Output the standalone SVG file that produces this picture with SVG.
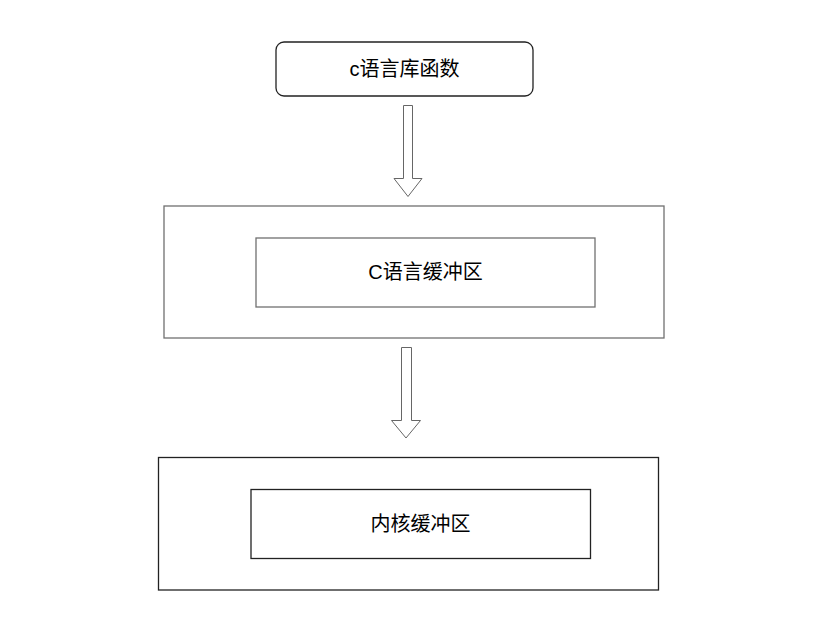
<svg xmlns="http://www.w3.org/2000/svg" width="832" height="632" viewBox="0 0 832 632">
<style>
.box{fill:#fff;stroke-width:1.3}
.g{stroke:#707070}
.d{stroke:#222}
.arr{fill:#fff;stroke:#666;stroke-width:1}
text{font-family:"Liberation Sans","Noto Sans CJK SC",sans-serif;font-size:20px;fill:#000;text-anchor:middle;dominant-baseline:central}
</style>
<rect width="832" height="632" fill="#fff"/>
<g id="connectors">
<path class="arr" d="M403.5,105.5 H412.5 V178.5 H422 L408,196.5 L394,178.5 H403.5 Z"/>
<path class="arr" d="M401.5,347.5 H411.5 V420.5 H420.5 L406,438 L391.5,420.5 H401.5 Z"/>
</g>
<g id="node-clib">
<rect class="box d" x="276" y="42" width="257" height="54" rx="8" stroke="#333"/>
<text x="404.5" y="69">c语言库函数</text>
</g>
<g id="node-cbuf-outer">
<rect class="box g" x="164" y="206" width="500" height="132"/>
</g>
<g id="node-cbuf">
<rect class="box g" x="256" y="238" width="339" height="69"/>
<text x="425.5" y="272">C语言缓冲区</text>
</g>
<g id="node-kbuf-outer">
<rect class="box d" x="158.5" y="457.5" width="500" height="132.5"/>
</g>
<g id="node-kbuf">
<rect class="box d" x="251" y="489.5" width="339.5" height="69"/>
<text x="420.5" y="524">内核缓冲区</text>
</g>
</svg>
